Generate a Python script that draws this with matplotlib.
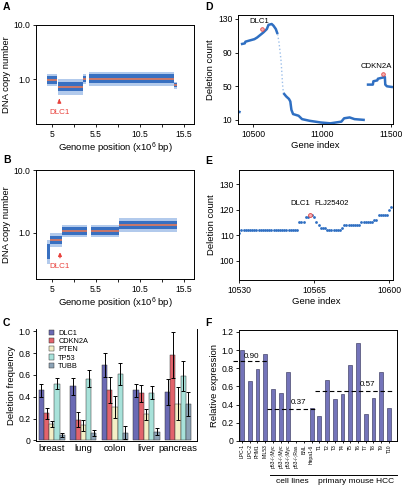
import numpy as np
import matplotlib
matplotlib.use('Agg')
import matplotlib.pyplot as plt
from matplotlib.transforms import blended_transform_factory

plt.rcParams['font.family'] = ['Liberation Sans', 'DejaVu Sans']
plt.rcParams['mathtext.default'] = 'regular'
plt.rcParams['axes.linewidth'] = 0.7
plt.rcParams['xtick.major.width'] = 0.6
plt.rcParams['ytick.major.width'] = 0.6
plt.rcParams['xtick.major.size'] = 2.5
plt.rcParams['ytick.major.size'] = 2.5
plt.rcParams['xtick.major.pad'] = 1.5
plt.rcParams['ytick.major.pad'] = 1.5

# ---------------- data ----------------
genome_ticks = [0, 1, 2, 3, 4, 5, 6]
genome_labels = ['5', '', '5.5', '', '10.5', '', '15.5']

# Panel A: copy-number segments (position in tick units)
a_seg_start = [-0.21, 0.27, 1.42, 1.70, 5.55]
a_seg_end = [0.23, 1.42, 1.55, 5.55, 5.70]
a_seg_level = [0.96, 0.72, 1.00, 1.02, 0.76]
a_seg_spread = [1.30, 1.40, 1.25, 1.35, 1.15]
a_seg_line = [True, True, True, True, True]

# Panel B
b_seg_start = [-0.21, -0.09, 0.47, 1.76, 3.02]
b_seg_end = [-0.09, 0.44, 1.60, 3.02, 5.70]
b_seg_level = [0.50, 0.76, 1.065, 1.065, 1.33]
b_seg_spread = [1.55, 1.30, 1.25, 1.25, 1.30]
b_seg_line = [False, True, True, True, True]

# Panel D: deletion count vs gene index
d_gene_left = [10394, 10410]
d_count_left = [20, 19]
d_gene_main = [10412, 10440, 10445, 10466, 10510, 10530, 10560, 10575, 10600, 10612, 10635, 10648, 10665, 10678]
d_count_main = [100, 101, 103, 104, 106, 108, 112, 114, 118, 123, 124, 122, 118, 112]
d_gene_drop = [10678, 10688, 10695, 10702, 10708, 10714, 10720]
d_count_drop = [112, 102, 92, 82, 68, 52, 42]
d_gene_low = [10720, 10740, 10760, 10770, 10778, 10790, 10830, 10855, 10910, 10990, 11060, 11100, 11140, 11160, 11200, 11235, 11310]
d_count_low = [42, 38, 35, 32, 22, 17, 15, 11, 9, 7, 6, 7, 8, 12, 13, 11, 10]
d_gene_right = [11324, 11368, 11372, 11400, 11405, 11455, 11458, 11470, 11514]
d_count_right = [52, 52, 56, 57, 59, 61, 52, 50, 49]
d_markers_gene = [10563, 11440]
d_markers_count = [118.5, 65]
d_marker_names = ['DLC1', 'CDKN2A']

# Panel E: run-length encoded deletion counts from gene 10530
e_first_gene = 10530
e_values = [111, 112, 115, 117, 118, 117, 115, 114, 113, 112, 113, 114, 115, 116, 118, 120, 121]
e_runs = [1, 27, 3, 2, 2, 1, 1, 1, 3, 7, 1, 8, 6, 2, 5, 1, 1]
e_marker = (10563, 118)

# Panel C: deletion frequency
c_tissues = ['breast', 'lung', 'colon', 'liver', 'pancreas']
c_genes = ['DLC1', 'CDKN2A', 'PTEN', 'TP53', 'TUBB']
c_values = {
    'DLC1':   [0.46, 0.495, 0.69, 0.46, 0.44],
    'CDKN2A': [0.25, 0.19, 0.46, 0.43, 0.78],
    'PTEN':   [0.15, 0.14, 0.31, 0.24, 0.335],
    'TP53':   [0.52, 0.565, 0.61, 0.435, 0.59],
    'TUBB':   [0.05, 0.07, 0.07, 0.08, 0.33],
}
c_errors = {
    'DLC1':   [0.06, 0.08, 0.11, 0.06, 0.12],
    'CDKN2A': [0.05, 0.07, 0.12, 0.08, 0.21],
    'PTEN':   [0.03, 0.05, 0.10, 0.05, 0.15],
    'TP53':   [0.05, 0.08, 0.10, 0.06, 0.14],
    'TUBB':   [0.02, 0.03, 0.06, 0.03, 0.11],
}
c_colors = ['#6a6ab4', '#e2636c', '#f4efc6', '#a8e2da', '#8ca3b6']

# Panel F: relative expression
f_samples = ['LPC-1', 'LPC-2', 'PHM1', 'MIL53', 'p53-/-;Myc', 'p53-/-;Myc', 'p53-/-;Myc',
             'p53-/-;Ras', 'BNL', 'Hepa1-6', 'T1', 'T2', 'T3', 'T4', 'T5', 'T6', 'T7', 'T8', 'T9', 'T10']
f_values = [1.00, 0.66, 0.79, 0.96, 0.57, 0.53, 0.76, 0.0, 0.0, 0.36,
            0.28, 0.67, 0.46, 0.52, 0.84, 1.08, 0.30, 0.47, 0.76, 0.36]
f_mean_levels = [0.88, 0.355, 0.555]
f_mean_labels = ['0.90', '0.37', '0.57']
f_mean_ranges = [(-1.1, 3.2), (3.2, 9.4), (9.4, 19.7)]
f_groups = ['cell lines', 'primary mouse HCC']
f_group_ranges = [(3.6, 9.5), (9.5, 20.1)]

# ---------------- figure ----------------
W, H = 404, 488
fig = plt.figure(figsize=(W / 100, H / 100), dpi=100)


def ax_at(l, t, r, b):
    return fig.add_axes([l / W, 1 - b / H, (r - l) / W, (b - t) / H])


TICK_FS = 6.2
LAB_FS = 6.8
BLUE = '#2f6fc2'
ORANGE = '#f27a52'
RED = '#e8413c'


def cn_panel(ax, starts, ends, levels, spreads, lines, ylo):
    for s, e, lv, sp, ln in zip(starts, ends, levels, spreads, lines):
        ax.fill_between([s, e], [lv / sp] * 2, [lv * sp] * 2, color='#7fa8e0', lw=0, alpha=0.6)
        ax.fill_between([s, e], [lv / sp ** 0.6] * 2, [lv * sp ** 0.6] * 2, color='#2b66bd', lw=0, alpha=0.9)
        if ln:
            ax.plot([s, e], [lv, lv], color=ORANGE, lw=1.1, solid_capstyle='butt')
    ax.set_yscale('log')
    ax.set_ylim(ylo, 10)
    ax.set_xlim(-0.73, 6.45)
    ax.set_yticks([1, 10])
    ax.set_yticklabels(['1.0', '10.0'])
    ax.yaxis.set_minor_locator(matplotlib.ticker.NullLocator())
    ax.set_xticks(genome_ticks)
    ax.set_xticklabels(genome_labels)
    ax.tick_params(labelsize=TICK_FS)
    ax.set_xlabel(r'Genome position (x10$^{6}$ bp)', fontsize=LAB_FS, labelpad=1.5)
    ax.set_ylabel('DNA copy number', fontsize=LAB_FS, labelpad=2)


# Panel A
axA = ax_at(36, 25, 194, 124)
cn_panel(axA, a_seg_start, a_seg_end, a_seg_level, a_seg_spread, a_seg_line, 0.147)
axA.annotate('', xy=(0.33, 0.48), xytext=(0.33, 0.35),
             arrowprops=dict(arrowstyle='-|>', color=RED, lw=0.9, mutation_scale=5))
axA.text(0.33, 0.24, 'DLC1', color=RED, fontsize=5.8, ha='center', va='center')

# Panel B
axB = ax_at(36, 170, 194, 279)
cn_panel(axB, b_seg_start, b_seg_end, b_seg_level, b_seg_spread, b_seg_line, 0.183)
axB.annotate('', xy=(0.36, 0.54), xytext=(0.36, 0.36),
             arrowprops=dict(arrowstyle='-|>', color=RED, lw=0.9, mutation_scale=5))
axB.text(0.36, 0.285, 'DLC1', color=RED, fontsize=5.8, ha='center', va='center')

# Panel D
axD = ax_at(238, 15, 393, 124)
axD.plot(d_gene_left, d_count_left, color=BLUE, lw=1.8, solid_capstyle='butt')
axD.plot(d_gene_main, d_count_main, color=BLUE, lw=1.8, solid_capstyle='butt')
axD.plot(d_gene_drop, d_count_drop, color='#9ec0ea', lw=1.0, ls=':', solid_capstyle='butt')
axD.plot(d_gene_low, d_count_low, color=BLUE, lw=1.8, solid_capstyle='butt')
axD.plot(d_gene_right, d_count_right, color=BLUE, lw=1.8, solid_capstyle='butt')
axD.plot(d_markers_gene, d_markers_count, ls='none', marker='o', ms=2.6, mfc='#f4b0b0', mec='#e04848', mew=0.6)
axD.text(10545, 127.5, d_marker_names[0], fontsize=5.6, ha='center', va='center')
axD.text(11396, 73.5, d_marker_names[1], fontsize=5.6, ha='center', va='center')
axD.set_xlim(10391, 11514)
axD.set_ylim(5.2, 134.7)
axD.set_xticks([10500, 11000, 11500])
axD.set_yticks([10, 50, 90, 130])
axD.tick_params(labelsize=TICK_FS)
axD.set_xlabel('Gene index', fontsize=LAB_FS, labelpad=1.5)
axD.set_ylabel('Deletion count', fontsize=LAB_FS, labelpad=2)

# Panel E
e_counts = np.repeat(e_values, e_runs)
e_genes = e_first_gene + np.arange(len(e_counts))
axE = ax_at(239.3, 170, 393, 280)
axE.plot(e_genes, e_counts, ls='none', marker='o', ms=2.0, color=BLUE, mew=0)
axE.plot([e_marker[0]], [e_marker[1]], ls='none', marker='o', ms=2.8, mfc='#f4b0b0', mec='#e04848', mew=0.6)
axE.text(10558.3, 122.4, 'DLC1', fontsize=5.6, ha='center', va='center')
axE.text(10573, 122.4, 'FLJ25402', fontsize=5.6, ha='center', va='center')
axE.set_xlim(10530, 10601.7)
axE.set_ylim(92.5, 135.5)
axE.set_xticks([10530, 10565, 10600])
axE.set_yticks([100, 110, 120, 130])
axE.tick_params(labelsize=TICK_FS)
axE.set_xlabel('Gene index', fontsize=LAB_FS, labelpad=1.5)
axE.set_ylabel('Deletion count', fontsize=LAB_FS, labelpad=2)

# Panel C
axC = ax_at(36, 329, 197, 441)
x = np.arange(len(c_tissues))
bw = 0.165
for i, (g, col) in enumerate(zip(c_genes, c_colors)):
    off = (i - 2) * bw
    axC.bar(x + off, c_values[g], width=bw, color=col, edgecolor='#333333', lw=0.35,
            yerr=c_errors[g], error_kw=dict(elinewidth=0.7, capsize=1.6, capthick=0.7, ecolor='black'),
            label=g)
axC.set_xlim(-0.5, 4.6)
axC.set_ylim(-0.005, 1.02)
axC.set_xticks(x)
axC.set_xticklabels(c_tissues)
axC.tick_params(axis='x', length=0, labelsize=LAB_FS, pad=2)
axC.tick_params(axis='y', labelsize=TICK_FS)
axC.set_yticks([0, 0.2, 0.4, 0.6, 0.8, 1.0])
axC.set_yticklabels(['0', '0.2', '0.4', '0.6', '0.8', '1.0'])
axC.set_ylabel('Deletion frequency', fontsize=LAB_FS, labelpad=2)
axC.spines['top'].set_visible(False)
axC.legend(loc='upper left', bbox_to_anchor=(0.06, 1.02), frameon=False, fontsize=5.3,
           handlelength=0.7, handleheight=0.7, handletextpad=0.6, labelspacing=0.15, borderaxespad=0)

# Panel F
axF = ax_at(239.3, 330, 396.7, 441)
xf = np.arange(len(f_samples))
axF.bar(xf, f_values, width=0.5, color='#7474ba', edgecolor='#2a2a50', lw=0.4)
for lvl, lab, (x0, x1) in zip(f_mean_levels, f_mean_labels, f_mean_ranges):
    axF.plot([x0, x1], [lvl, lvl], color='black', lw=0.8, ls=(0, (4, 2.5)), clip_on=False)
axF.text(1.2, 0.925, f_mean_labels[0], fontsize=5.8, ha='center', va='center')
axF.text(7.3, 0.42, f_mean_labels[1], fontsize=5.8, ha='center', va='center')
axF.text(16.2, 0.62, f_mean_labels[2], fontsize=5.8, ha='center', va='center')
axF.set_xlim(-0.35, 20.0)
axF.set_ylim(0, 1.22)
axF.set_xticks(xf)
axF.set_xticklabels(f_samples, rotation=90, fontsize=3.6)
axF.tick_params(axis='x', length=1.5, pad=1)
axF.set_yticks([0, 0.2, 0.4, 0.6, 0.8, 1.0, 1.2])
axF.set_yticklabels(['0', '0.2', '0.4', '0.6', '0.8', '1.0', '1.2'])
axF.tick_params(axis='y', labelsize=TICK_FS)
axF.set_ylabel('Relative expression', fontsize=LAB_FS, labelpad=2)
tr = blended_transform_factory(axF.transData, axF.transAxes)
for name, (x0, x1) in zip(f_groups, f_group_ranges):
    axF.plot([x0, x1], [-0.305, -0.305], color='black', lw=0.7, transform=tr, clip_on=False)
    axF.text((x0 + x1) / 2, -0.335, name, fontsize=6.0, ha='center', va='top', transform=tr)

# Panel letters
for lab, px, py in [('A', 3, 2), ('B', 3, 155), ('C', 3, 318), ('D', 205, 2), ('E', 205, 156), ('F', 205, 318)]:
    fig.text(px / W, 1 - py / H, lab, fontsize=7.5, fontweight='bold', ha='left', va='top')

fig.savefig('out.png', dpi=100)
